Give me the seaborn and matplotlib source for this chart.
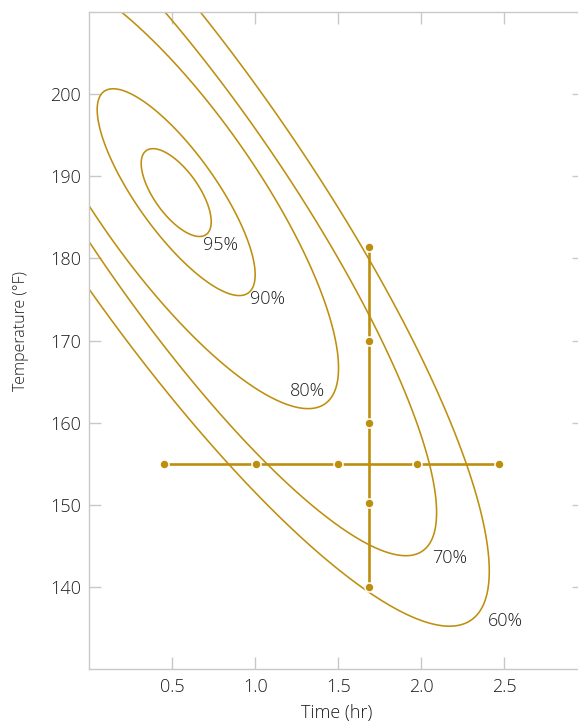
import numpy as np
import pandas as pd
import matplotlib
matplotlib.use("Agg")
import matplotlib.pyplot as plt
import seaborn as sns

# ---------------- data ----------------
# Yield contours: each one is the ellipse
#   t^2 + a*t*s + b*s^2 + c*t + d*s = k ,  with s = (T - 180) / 10
contour_levels = [60, 70, 80, 90, 95]
contour_labels = ["60%", "70%", "80%", "90%", "95%"]
ell_a = [0.6237, 0.6222, 0.6058, 0.6045, 0.5249]
ell_b = [0.1280, 0.1258, 0.1383, 0.1434, 0.1562]
ell_c = [-1.5509, -1.5643, -1.5286, -1.5320, -1.4656]
ell_d = [-0.5298, -0.5239, -0.5407, -0.5468, -0.5243]
ell_k = [0.2211, -0.0972, -0.2864, -0.5381, -0.5679]
label_time = [2.511, 2.172, 1.315, 1.071, 0.793]
label_temp = [135.9, 143.6, 163.8, 175.0, 181.6]

# One-factor-at-a-time experiment
time_runs = [0.449, 1.002, 1.501, 1.973, 2.470]      # at 155 °F
time_run_temp = [155, 155, 155, 155, 155]
temp_runs = [140.05, 150.18, 160.0, 170.0, 181.36]   # at 1.686 hr
temp_run_time = [1.686, 1.686, 1.686, 1.686, 1.686]

x_ticks = [0.5, 1.0, 1.5, 2.0, 2.5]
y_ticks = [140, 150, 160, 170, 180, 190, 200]

# ---------------- style ----------------
sns.set_style("ticks")
plt.rcParams["font.family"] = ["Open Sans", "DejaVu Sans"]
plt.rcParams["font.weight"] = 300
plt.rcParams["axes.labelweight"] = 300
GOLD = "#BE8F0E"
GRAY = "#c8c8c8"
TXT = "#1e1e1e"

fig = plt.figure(figsize=(5.78, 7.22), dpi=100)
ax = fig.add_axes([0.15484, 0.07299, 0.85484, 0.91080])

# contours
tt = np.linspace(0, 3.0, 700)
TT = np.linspace(128, 212, 700)
X, Y = np.meshgrid(tt, TT)
S = (Y - 180) / 10
for i in range(len(contour_levels)):
    Q = X**2 + ell_a[i] * X * S + ell_b[i] * S**2 + ell_c[i] * X + ell_d[i] * S - ell_k[i]
    ax.contour(X, Y, Q, levels=[0], colors=GOLD, linewidths=1.15, zorder=2)
    ax.text(label_time[i], label_temp[i], contour_labels[i], fontsize=13,
            color=TXT, ha="center", va="center", zorder=5)

# experiment path
df_h = pd.DataFrame({"time": time_runs, "temp": time_run_temp})
df_v = pd.DataFrame({"time": temp_run_time, "temp": temp_runs})
for df in (df_h, df_v):
    sns.lineplot(data=df, x="time", y="temp", sort=False, estimator=None,
                 color=GOLD, linewidth=1.9, ax=ax, zorder=3)
for df in (df_h, df_v):
    sns.scatterplot(data=df, x="time", y="temp", color=GOLD, s=42,
                    edgecolor="white", linewidth=1.1, ax=ax, zorder=4)

ax.set_xlim(0, 2.98)
ax.set_ylim(130, 210)
ax.set_xticks(x_ticks)
ax.set_xticklabels([f"{v:.1f}" for v in x_ticks])
ax.set_yticks(y_ticks)

for sp in ax.spines.values():
    sp.set_visible(True)
    sp.set_color(GRAY)
    sp.set_linewidth(1.0)
ax.tick_params(which="both", direction="in", length=8.5, width=1.0, color=GRAY,
               top=True, right=True, labelsize=13, labelcolor=TXT, pad=6)

ax.set_xlabel("Time (hr)", fontsize=13, color=TXT, labelpad=6)
ax.set_ylabel("Temperature (°F)", fontsize=11.5, color=TXT)
ax.yaxis.set_label_coords(-0.122, 0.514)

fig.savefig("out.png", dpi=100)
